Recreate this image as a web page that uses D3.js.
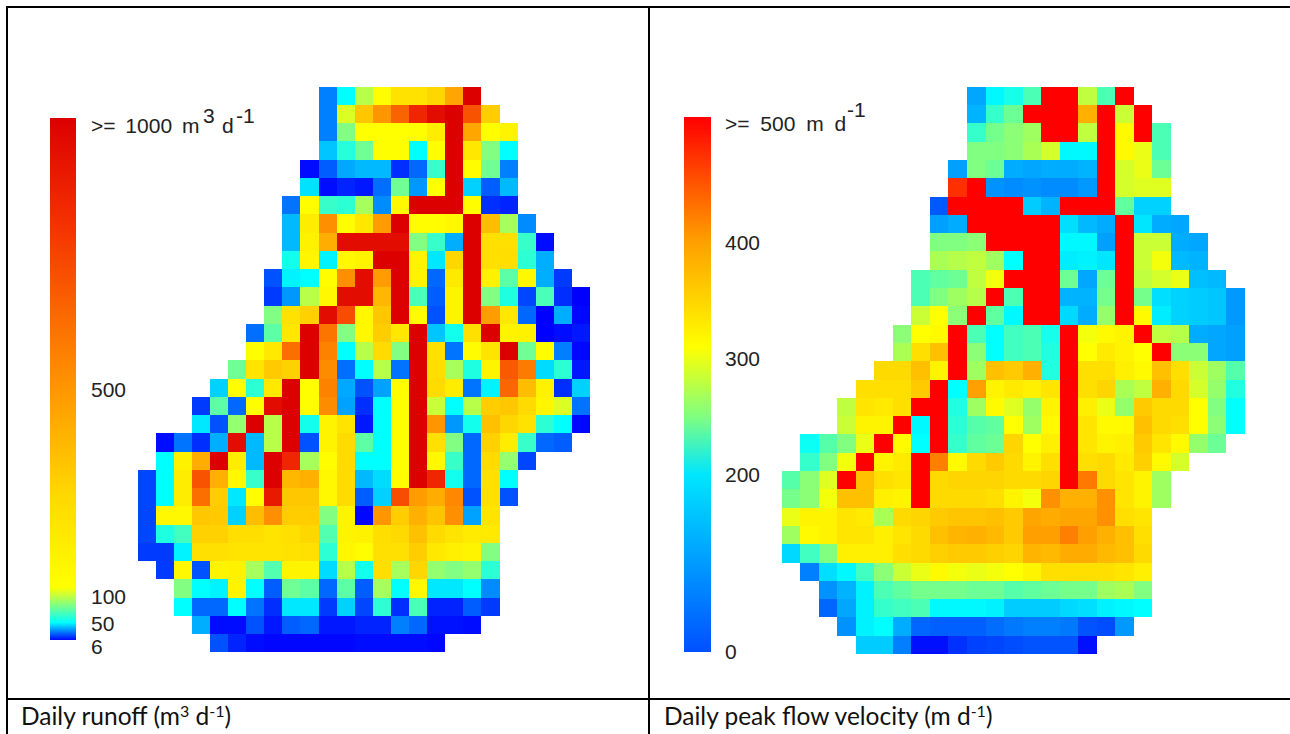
<!DOCTYPE html>
<html><head><meta charset="utf-8">
<script src="https://cdn.jsdelivr.net/npm/d3@7/dist/d3.min.js"></script>
<style>html,body{margin:0;padding:0;background:#fff;overflow:hidden}svg{display:block}</style>
</head><body><svg id="chart" width="1290" height="734"></svg>
<script>
// Daily runoff (m3 per day): first column of each row, then values along the row
const runoffStart = [10,10,10,10,9,9,8,8,8,8,7,7,7,6,6,5,4,3,3,1,1,0,0,0,0,0,1,2,2,3,4];
const runoffValues = [
[28,50,100,130,250,250,300,450,1000],
[28,110,350,500,650,850,950,1000,700,330],
[28,85,120,120,120,130,200,1000,450,130,170],
[40,60,80,125,125,50,125,1000,230,85,50],
[8,22,35,38,38,14,24,65,1000,130,80,28],
[45,8,12,10,25,80,32,120,1000,42,22,38],
[26,130,65,62,95,30,150,1000,1000,1000,130,14,12],
[38,200,520,130,230,480,1000,130,130,150,1000,380,95,30],
[38,180,430,950,950,950,950,85,65,36,1000,260,260,65,8],
[55,160,48,150,170,1000,1000,170,46,300,1000,260,270,62,36],
[20,48,50,130,520,950,480,1000,170,24,220,1000,180,75,150,36,16],
[16,32,100,150,950,950,400,1000,70,22,170,1000,85,58,18,70,14,6],
[85,250,320,950,720,150,350,1000,130,20,170,1000,480,230,24,6,36,7],
[25,75,230,1000,600,85,150,330,230,1000,40,55,260,1000,170,180,6,8,10],
[125,220,620,1000,560,50,100,280,85,1000,260,26,140,240,1000,80,130,28,7],
[80,240,340,320,1000,530,25,50,100,26,1000,270,95,58,170,680,580,44,62,10],
[42,130,62,220,1000,125,560,35,20,34,130,1000,280,200,26,48,640,380,180,14,42],
[16,75,24,125,950,1000,125,530,34,14,50,125,1000,105,50,100,330,350,280,160,110,26],
[46,20,90,1000,100,1000,55,170,240,10,50,125,1000,500,32,55,370,300,250,62,50,7],
[8,26,14,36,950,38,100,1000,20,170,280,75,50,125,1000,260,85,24,320,200,65,24,22],
[50,180,430,1000,200,38,1000,850,95,130,280,50,50,125,1000,150,65,24,280,90,18],
[18,50,200,700,420,150,65,1000,400,420,150,280,38,44,130,1000,850,55,24,260,50],
[18,50,200,620,330,46,130,900,350,350,150,280,22,42,720,480,430,540,20,260,20],
[18,150,150,350,340,42,380,520,330,330,85,170,7,500,330,420,360,520,34,240],
[18,58,68,320,320,270,270,240,260,300,72,170,180,270,290,370,280,240,210,220],
[16,16,48,260,260,240,240,240,250,260,62,160,130,260,260,330,220,190,170,85],
[16,150,20,170,180,95,72,170,170,44,100,55,270,95,300,90,85,90,62],
[85,50,48,170,50,22,80,75,24,75,22,95,50,150,46,46,50,30],
[50,24,24,50,26,14,46,46,16,42,18,62,14,70,12,12,22,16],
[36,8,8,20,10,22,24,10,10,12,12,28,24,9,9,8],
[20,12,8,7,7,7,7,7,8,8,8,8,7]
];
// Daily peak flow velocity (m per day)
const velocityStart = [10,10,10,10,9,9,8,8,8,8,7,7,7,6,6,5,4,3,3,1,1,0,0,0,0,0,1,2,2,3,4];
const velocityValues = [
[120,185,200,225,500,500,280,225,500],
[130,215,240,500,500,500,385,500,285,500],
[215,245,255,265,500,500,280,500,315,500,225],
[250,250,255,270,290,185,185,500,315,300,225],
[115,250,240,125,120,125,125,130,500,290,300,240],
[470,500,105,100,105,100,100,110,500,290,295,295],
[60,500,500,500,500,150,130,500,500,500,235,155,155],
[115,125,500,500,500,500,500,165,135,125,500,170,125,120],
[250,250,255,500,500,500,500,185,185,115,500,285,285,125,120],
[270,275,280,265,190,500,500,175,180,170,500,285,305,135,130],
[225,235,240,280,305,500,500,500,240,120,240,500,280,290,300,140,135],
[225,250,265,275,500,225,500,500,130,130,245,500,245,165,155,150,145,110],
[285,310,255,500,235,185,500,500,160,125,260,500,315,175,155,150,145,110],
[255,310,315,500,225,190,220,225,200,500,305,315,320,500,280,275,125,120,115],
[270,340,370,500,255,190,220,225,205,500,310,330,320,310,500,255,255,120,115],
[345,345,370,320,500,265,370,360,385,205,500,340,340,325,315,370,340,285,265,230],
[340,340,340,360,500,190,400,320,330,325,335,500,340,350,270,280,385,345,290,260,205],
[280,335,330,340,500,500,205,265,315,295,260,320,500,325,300,260,360,345,345,310,250,190],
[285,320,320,500,185,500,210,230,235,310,265,315,500,335,315,315,370,345,340,310,255,190],
[195,230,250,300,500,315,190,500,215,235,240,350,310,325,500,335,320,325,360,335,315,260,240],
[215,250,305,500,320,330,500,420,315,345,360,345,320,340,500,340,345,330,355,315,290],
[230,255,295,500,370,340,335,500,345,350,350,350,345,345,350,500,425,345,335,320,265],
[245,255,305,370,370,325,320,500,345,345,345,340,320,305,410,385,385,410,335,320,265],
[300,320,320,335,330,270,345,350,360,365,365,370,360,395,390,395,395,410,340,335],
[265,315,320,335,335,325,335,345,370,380,385,375,360,400,400,420,400,385,370,340],
[160,220,250,325,325,325,340,345,355,360,360,355,350,380,375,390,390,375,370,345],
[90,165,185,220,255,285,300,315,305,300,305,310,320,340,340,340,340,335,325],
[105,130,180,225,235,245,245,245,240,240,230,235,240,245,245,265,270,250],
[70,120,180,215,220,225,185,185,185,180,150,150,150,160,165,180,185,190],
[105,180,190,125,70,65,65,65,75,85,90,90,85,55,50,110],
[150,150,90,10,10,30,40,45,50,55,55,55,10]
];
const runoffTicks = [6,50,100,500];
const velocityTicks = [0,200,300,400];
const runoffStops = [6,50,85,120,300,500,800,1000];
const runoffColors = ["#0000ff","#00ffff","#82ff82","#ffff00","#ffd700","#ff9600","#f53200","#dc0000"];
const velocityStops = [0,40,190,250,310,400,500];
const velocityColors = ["#0000ff","#0040ff","#00ffff","#80ff80","#ffff00","#ffa000","#ff0000"];
const velocityBarStops = [0,200,250,310,400,500];
const velocityBarColors = ["#0050ff","#00e6ff","#80ff80","#ffff00","#ffa000","#ff0000"];

const svg = d3.select("#chart");

function heat(starts, rows, colour, xr, yr){
  const x = d3.scaleLinear().domain([0,25]).range(xr);
  const y = d3.scaleLinear().domain([0,31]).range(yr);
  const cells = rows.flatMap((vals,r)=>vals.map((v,i)=>({r,c:starts[r]+i,v})));
  svg.append("g").attr("shape-rendering","crispEdges").selectAll("rect").data(cells).join("rect")
    .attr("x",d=>x(d.c)).attr("y",d=>y(d.r))
    .attr("width",d=>x(d.c+1)-x(d.c)).attr("height",d=>y(d.r+1)-y(d.r))
    .attr("fill",d=>colour(d.v));
}
function bar(colour, yScale, x0, w, y0, y1){
  const g = svg.append("g").attr("shape-rendering","crispEdges");
  g.selectAll("rect").data(d3.range(Math.round(y0),Math.round(y1))).join("rect")
    .attr("x",x0).attr("width",w).attr("y",d=>d).attr("height",1.2)
    .attr("fill",d=>colour(yScale.invert(d)));
}
const runoffColour = d3.scaleLinear().domain(runoffStops).range(runoffColors).clamp(true);
const velocityColour = d3.scaleLinear().domain(velocityStops).range(velocityColors).clamp(true);
const velocityBarColour = d3.scaleLinear().domain(velocityBarStops).range(velocityBarColors).clamp(true);

heat(runoffStart, runoffValues, runoffColour, [137.5,590], [86.7,652.3]);
heat(velocityStart, velocityValues, velocityColour, [781.7,1245], [86.7,654]);

const runoffBarY = d3.scaleLinear().domain([6,50,100,500,1000]).range([640,622,597,388,118]);
const velocityBarY = d3.scaleLinear().domain([0,200,300,400,500]).range([652,474,358,242,117]);
bar(runoffColour, runoffBarY, 49.5, 26, 118, 640);
bar(velocityBarColour, velocityBarY, 683.5, 27, 117, 652);

function label(x,y,t,spacing){
  return svg.append("text").attr("x",x).attr("y",y).attr("dominant-baseline","middle").text(t)
    .style("font-family","'Liberation Sans',Arial,sans-serif").style("font-size","21px")
    .style("fill","#222").style("word-spacing",(spacing||0)+"px");
}
const runoffLabelY = {6:648,50:625,100:598,500:391};
runoffTicks.forEach(t=>label(91,runoffLabelY[t],t));
const velocityLabelY = {0:653,200:476,300:360,400:244};
velocityTicks.forEach(t=>label(725,velocityLabelY[t],t));
label(91,127,">= 1000 m",4);
label(203,117,"3");
label(222,127,"d");
label(236,117,"-1");
label(725,125,">= 500 m d",5);
label(847,111,"-1");

// table rules
const rules = [[6,7,1290,7],[7,6,7,734],[649,7,649,734],[7,699,1290,699]];
svg.append("g").selectAll("line").data(rules).join("line")
  .attr("x1",d=>d[0]).attr("y1",d=>d[1]).attr("x2",d=>d[2]).attr("y2",d=>d[3])
  .attr("stroke","#000").attr("stroke-width",2);

function caption(x,parts){
  const t = svg.append("text").attr("x",x).attr("y",725)
    .style("font-family","Lato,'Open Sans',sans-serif").style("fill","#111");
  parts.forEach(p=>{
    t.append("tspan").attr("dy",p[1]).style("font-size",p[2]+"px").text(p[0]);
  });
}
caption(21,[["Daily runoff (m",0,24.5],["3",-8,16],[" d",8,24.5],["-1",-8,16],[")",8,24.5]]);
caption(664,[["Daily peak flow velocity (m d",0,24.5],["-1",-8,16],[")",8,24.5]]);
</script></body></html>
